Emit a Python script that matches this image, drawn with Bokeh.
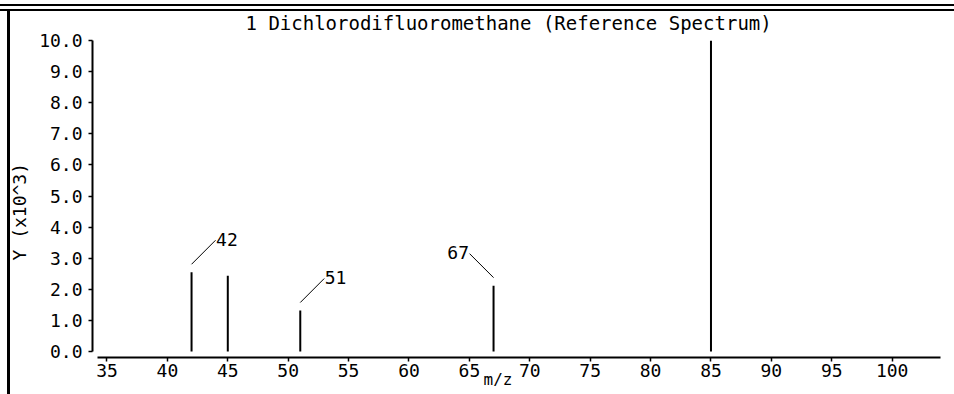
from bokeh.plotting import figure
from bokeh.models import (FixedTicker, PrintfTickFormatter, ColumnDataSource,
                          Title, InlineStyleSheet)
from bokeh.embed import file_html
from bokeh.resources import INLINE

# ---------------- data ----------------
TITLE = "1 Dichlorodifluoromethane (Reference Spectrum)"
X_LABEL = "m/z"
Y_LABEL = "Y (x10^3)"
MZ = [42, 45, 51, 67, 85]
INTENSITY = [2.55, 2.44, 1.32, 2.12, 10.0]
LABELED_MZ = [42, 51, 67]
LABELED_INTENSITY = [2.55, 1.32, 2.12]
LABEL_TEXT = ["42", "51", "67"]
X_TICKS = [35, 40, 45, 50, 55, 60, 65, 70, 75, 80, 85, 90, 95, 100]
Y_TICKS = [0, 1, 2, 3, 4, 5, 6, 7, 8, 9, 10]

# ---------------- style ----------------
FONT = "DejaVu Sans Mono"
FS = "18px"
W, H = 954, 394
ML, MR, MT, MB = 91, 14, 40, 37
X0, X1 = 33.8, 104.0
Y0, Y1 = -0.19, 10.0
FW = W - ML - MR
FH = H - MT - MB
PX_X = FW / (X1 - X0)
PX_Y = FH / (Y1 - Y0)
LABEL_SIDE = [1, 1, -1]          # leader direction (style)
LEAD_GAP, LEAD_LEN = 8, 24       # pixels

FRAME_CSS = """
:host { position: relative; }
:host::after {
  content: "";
  position: fixed; left: 0; top: 0; width: 954px; height: 394px;
  pointer-events: none; z-index: 2147483647;
  background-image:
    linear-gradient(to bottom, transparent 4px, black 4px, black 6px,
                    transparent 6px, transparent 9px, black 9px, black 11px,
                    transparent 11px),
    linear-gradient(to right, transparent 7px, black 7px, black 9.5px,
                    transparent 9.5px);
  background-size: 100% 12px, 100% calc(100% - 9px);
  background-position: 0 0, 0 9px;
  background-repeat: no-repeat;
}
"""

p = figure(width=W, height=H, x_range=(X0, X1), y_range=(Y0, Y1),
           output_backend="svg", toolbar_location=None,
           min_border_left=ML, min_border_right=MR,
           min_border_top=MT, min_border_bottom=MB)
p.stylesheets = [InlineStyleSheet(css=FRAME_CSS)]
p.background_fill_color = "white"
p.border_fill_color = "white"
p.outline_line_color = None
p.grid.visible = False

p.title.text = TITLE
p.title.align = "left"
p.title.offset = 153
p.title.text_font = FONT
p.title.text_font_size = "19px"
p.title.text_font_style = "normal"
p.title.text_color = "black"
p.title.background_fill_color = None
p.title.standoff = 13

for ax in (p.xaxis[0], p.yaxis[0]):
    ax.axis_line_width = 2
    ax.axis_line_color = "black"
    ax.major_tick_in = 0
    ax.major_tick_out = 4
    ax.major_tick_line_width = 1.5
    ax.major_tick_line_color = "black"
    ax.minor_tick_line_color = None
    ax.major_label_text_font = FONT
    ax.major_label_text_font_size = FS
    ax.major_label_text_color = "black"

p.xaxis.ticker = FixedTicker(ticks=X_TICKS)
p.xaxis.bounds = (34.2, 104.0)
p.xaxis.major_label_standoff = 2
p.yaxis.ticker = FixedTicker(ticks=Y_TICKS)
p.yaxis.formatter = PrintfTickFormatter(format="%.1f")
p.yaxis.bounds = (0, 10)
p.yaxis.major_label_standoff = 6

# axis titles
p.add_layout(Title(text=Y_LABEL, align="left", offset=97, standoff=13,
                   text_font=FONT, text_font_size=FS, text_font_style="normal",
                   text_color="black"), "left")
p.add_layout(Title(text=X_LABEL, align="left", offset=391, standoff=-19,
                   vertical_align="top", text_font=FONT, text_font_size="16px",
                   text_font_style="normal", text_color="black"), "below")

# peaks
peaks = ColumnDataSource(dict(x=MZ, y0=[0] * len(MZ), y1=INTENSITY))
p.segment(x0="x", y0="y0", x1="x", y1="y1", source=peaks,
          line_color="black", line_width=2)

# peak labels with leader lines
lead = ColumnDataSource(dict(
    x0=LABELED_MZ,
    y0=[v + LEAD_GAP / PX_Y for v in LABELED_INTENSITY],
    x1=[m + s * LEAD_LEN / PX_X for m, s in zip(LABELED_MZ, LABEL_SIDE)],
    y1=[v + (LEAD_GAP + LEAD_LEN) / PX_Y for v in LABELED_INTENSITY],
))
p.segment(x0="x0", y0="y0", x1="x1", y1="y1", source=lead,
          line_color="black", line_width=1)

txt = ColumnDataSource(dict(
    x=LABELED_MZ, y=LABELED_INTENSITY, text=LABEL_TEXT,
    xo=[s * (LEAD_LEN + 0.5) for s in LABEL_SIDE],
    align=["left" if s > 0 else "right" for s in LABEL_SIDE],
))
p.text(x="x", y="y", text="text", source=txt, x_offset="xo",
       y_offset=-(LEAD_GAP + LEAD_LEN + 1), text_align="align",
       text_baseline="middle", text_font={"value": FONT},
       text_font_size={"value": FS}, text_color="black")

open("out.html", "w").write(file_html(p, INLINE))
